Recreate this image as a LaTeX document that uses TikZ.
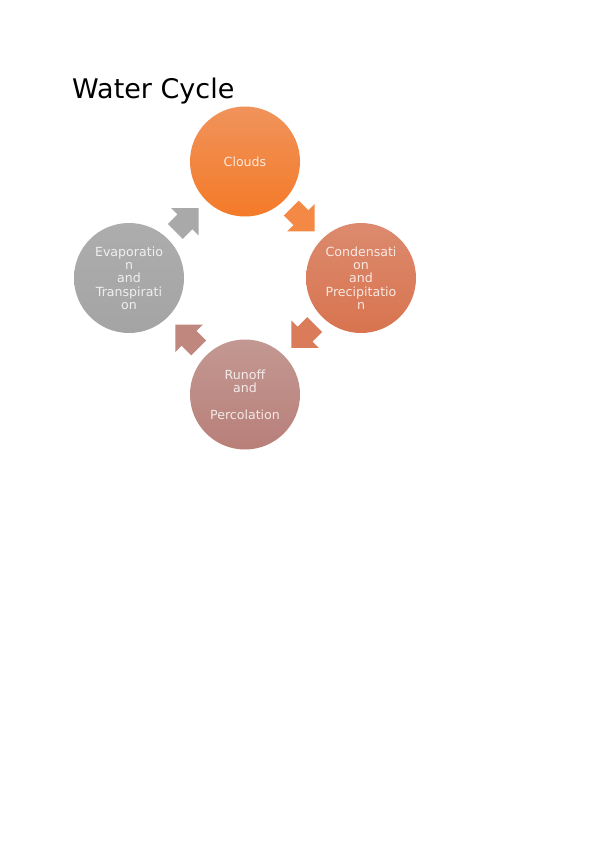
\documentclass[tikz,border=0pt]{standalone}
\usepackage{fontspec}
\setmainfont{DejaVu Sans}
\usetikzlibrary{calc}
\definecolor{cloudTop}{HTML}{F0935B}
\definecolor{cloudBot}{HTML}{F47A28}
\definecolor{condTop}{HTML}{DC8A6E}
\definecolor{condBot}{HTML}{D8744F}
\definecolor{runTop}{HTML}{C39892}
\definecolor{runBot}{HTML}{B97F79}
\definecolor{evapTop}{HTML}{ADADAD}
\definecolor{evapBot}{HTML}{A4A4A4}
\definecolor{arrA}{HTML}{F38944}
\definecolor{arrB}{HTML}{DA7C5A}
\definecolor{arrC}{HTML}{C0877F}
\definecolor{arrD}{HTML}{A9A9A9}
\tikzset{
  stage/.style={circle, minimum size=110pt, inner sep=0pt, align=center,
    text=white, text opacity=0.82, font=\fontsize{12.6}{13.3}\selectfont},
}
\newcommand\blockarrow[4]{%
  \fill[#4, shift={($(#1)!0.5!(#2)$)}, rotate=#3]
    (-16.5,-10.5) -- (-3,-10.5) -- (-3,-19.5) -- (16.5,0) -- (-3,19.5) -- (-3,10.5) -- (-16.5,10.5) -- cycle;}
\begin{document}
\begin{tikzpicture}[x=1pt,y=-1pt]
\useasboundingbox (0,0) rectangle (599,848);
\fill[white] (0,0) rectangle (599,848);
\node[anchor=base west, font=\fontsize{27}{32}\selectfont, text=black, inner sep=0pt] (title) at (72,98.5) {Water Cycle};
\node[stage, top color=cloudTop, bottom color=cloudBot] (clouds) at (245,161.5) {Clouds};
\node[stage, top color=condTop, bottom color=condBot] (cond) at (361,278) {Condensati\\on\\and\\Precipitatio\\n};
\node[stage, top color=runTop, bottom color=runBot] (run) at (245,394.5) {Runoff\\and\\[13.3pt]Percolation};
\node[stage, top color=evapTop, bottom color=evapBot] (evap) at (129,278) {Evaporatio\\n\\and\\Transpirati\\on};
\blockarrow{clouds}{cond}{-45}{arrA}
\blockarrow{cond}{run}{-135}{arrB}
\blockarrow{run}{evap}{135}{arrC}
\blockarrow{evap}{clouds}{45}{arrD}
\end{tikzpicture}
\end{document}
